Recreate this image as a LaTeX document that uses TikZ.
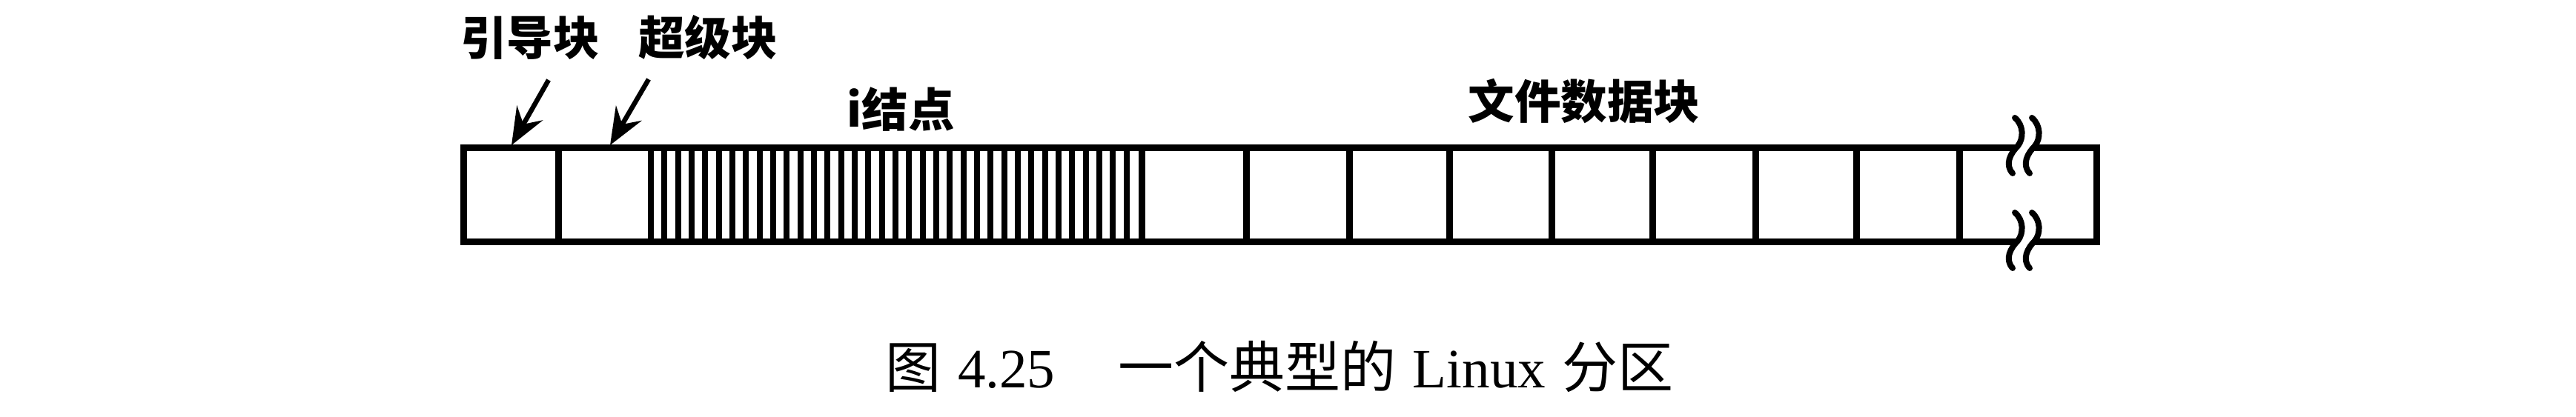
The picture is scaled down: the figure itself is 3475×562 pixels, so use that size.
\documentclass[tikz,border=0pt]{standalone}
\usepackage{fontspec}
\setmainfont{Liberation Serif}
\newfontfamily\cjk{Noto Sans CJK SC}
\usetikzlibrary{arrows.meta}
\tikzset{
  lbl/.style={inner sep=0.75pt, font=\cjk\bfseries\fontsize{12.5}{15}\selectfont},
  pointer/.style={line width=1.3pt, -{Stealth[length=10pt,width=8pt,inset=3.5pt]}},
  frame/.style={line width=1.8pt},
  hatch/.style={line width=1.6pt},
  brk/.style={line width=1.6pt, line cap=round}
}
\begin{document}
\begin{tikzpicture}[x=0.2pt,y=0.2pt,yscale=-1,xscale=1]
\useasboundingbox (0,0) rectangle (3475,562);

%Straight Lines: block dividers
\foreach \xx in {753,1540,1681,1820,1955,2093,2229,2368,2504,2643}
  \draw [frame] (\xx,199) -- (\xx,326);
%Straight Lines: i-node stripes
\foreach \k in {0,...,35}
  \draw [hatch] ({878+\k*18.33},199) -- ({878+\k*18.33},326);
%Shape: Rectangle
\draw [frame] (625,199) rectangle (2828,326);

%Curve Lines: break marks
\foreach \yy in {197,325} {
  \fill [white] (2718,\yy-38) .. controls (2730,\yy-28) and (2730,\yy-10) .. (2722,\yy) .. controls (2712,\yy+10) and (2704,\yy+25) .. (2715,\yy+37) -- (2738,\yy+37) .. controls (2727,\yy+25) and (2735,\yy+10) .. (2745,\yy) .. controls (2753,\yy-10) and (2753,\yy-28) .. (2741,\yy-38) -- cycle;
  \draw [brk] (2718,\yy-38) .. controls (2730,\yy-28) and (2730,\yy-10) .. (2722,\yy) .. controls (2712,\yy+10) and (2704,\yy+25) .. (2715,\yy+37);
  \draw [brk] (2741,\yy-38) .. controls (2753,\yy-28) and (2753,\yy-10) .. (2745,\yy) .. controls (2735,\yy+10) and (2727,\yy+25) .. (2738,\yy+37);
}

%Arrows
\coordinate (bootTail) at (740,108);
\coordinate (bootTip) at (690,196);
\coordinate (superTail) at (875,107);
\coordinate (superTip) at (823,196);
\draw [pointer] (bootTail) -- (bootTip);
\draw [pointer] (superTail) -- (superTip);

% Text Node
\node [lbl] (boot) at (715,51) {引导块};
% Text Node
\node [lbl] (super) at (955,51) {超级块};
% Text Node
\node [lbl] (inode) at (1215,148) {i结点};
% Text Node
\node [lbl] (data) at (2137,137) {文件数据块};
% Text Node
\node [inner sep=0pt, anchor=base, font=\fontsize{15}{18}\selectfont] (caption) at (1726,523) {{\cjk 图}\hspace{4.5pt}4.25\hspace{17pt}{\cjk 一个典型的}\hspace{4.5pt}Linux\hspace{4.5pt}{\cjk 分区}};

\end{tikzpicture}
\end{document}
